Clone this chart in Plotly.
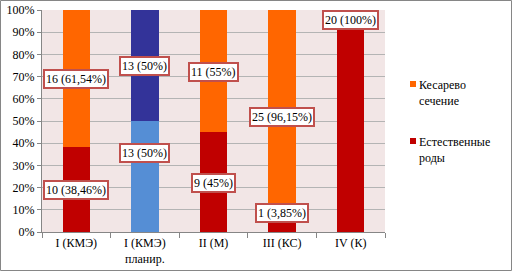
import plotly.graph_objects as go

categories = ["I (КМЭ)", "I (КМЭ)<br>планир.", "II (М)", "III (КС)", "IV (К)"]
natural_pct = [38.46, 50, 45, 3.85, 100]
cesarean_pct = [61.54, 50, 55, 96.15, 0]
natural_n = [10, 13, 9, 1, 20]
cesarean_n = [16, 13, 11, 25, 0]
natural_colors = ["#C00000", "#558ED5", "#C00000", "#C00000", "#C00000"]
cesarean_colors = ["#FF6600", "#333399", "#FF6600", "#FF6600", "#FF6600"]
legend_names = ["Кесарево<br>сечение", "Естественные<br>роды"]
legend_colors = ["#FF6600", "#C00000"]

def fmt(n, p):
    s = ("%g" % p).replace(".", ",")
    return f"{n} ({s}%)"

W, H = 512, 271
ml, mr, mt, mb = 42, 127, 10, 39
pw, ph = W - ml - mr, H - mt - mb
px = lambda x: (x - ml) / pw
py = lambda y: (H - mb - y) / ph

SERIF = "Liberation Serif"

fig = go.Figure()
fig.add_trace(go.Bar(x=categories, y=natural_pct, name="Естественные роды",
                     marker=dict(color=natural_colors, line=dict(width=0))))
fig.add_trace(go.Bar(x=categories, y=cesarean_pct, name="Кесарево сечение",
                     marker=dict(color=cesarean_colors, line=dict(width=0))))

# label positions (percent axis)
nat_label_y = [19, 35.5, 22, 8.5, 95.5]
ces_label_y = [69, 75, 72, 52, None]
font = dict(family=SERIF, size=12, color="black")
for i, c in enumerate(categories):
    fig.add_annotation(x=c, y=nat_label_y[i], text=fmt(natural_n[i], natural_pct[i]),
                       showarrow=False, font=font, bgcolor="white",
                       bordercolor="#C0504D", borderwidth=2, borderpad=1)
    if cesarean_n[i] > 0:
        fig.add_annotation(x=c, y=ces_label_y[i], text=fmt(cesarean_n[i], cesarean_pct[i]),
                           showarrow=False, font=font, bgcolor="white",
                           bordercolor="#C0504D", borderwidth=2, borderpad=1)

# manual legend
for k, (name, col) in enumerate(zip(legend_names, legend_colors)):
    top = 76 + k * 57
    fig.add_shape(type="rect", xref="paper", yref="paper",
                  x0=px(410), x1=px(416), y0=py(top + 11), y1=py(top + 5),
                  fillcolor=col, line=dict(width=0))
    fig.add_annotation(xref="paper", yref="paper", x=px(417), y=py(top),
                       xanchor="left", yanchor="top", align="left",
                       text=name, showarrow=False,
                       font=dict(family=SERIF, size=12, color="black"))

# outer border
fig.add_shape(type="rect", xref="paper", yref="paper",
              x0=px(0.5), x1=px(W - 0.5), y0=py(H - 0.5), y1=py(0.5),
              line=dict(color="#868686", width=1))

fig.update_layout(
    width=W, height=H, barmode="stack", bargap=0.6, showlegend=False,
    margin=dict(l=ml, r=mr, t=mt, b=mb, autoexpand=False),
    paper_bgcolor="white", plot_bgcolor="#F2E6E6",
    font=dict(family=SERIF, size=12, color="black"),
    xaxis=dict(showgrid=False, showline=True, linecolor="#868686",
               ticks="outside", tickson="boundaries", ticklen=5, tickcolor="#868686",
               automargin=False),
    yaxis=dict(range=[0, 100], dtick=10, ticksuffix="%", showgrid=True,
               gridcolor="#B4B4B4", showline=True, linecolor="#868686",
               ticks="outside", ticklen=4, tickcolor="#868686", zeroline=False,
               automargin=False),
)
fig.write_html("out.html", config={"displayModeBar": False},
               post_script="document.body.style.margin='0';document.body.style.overflow='hidden';")
